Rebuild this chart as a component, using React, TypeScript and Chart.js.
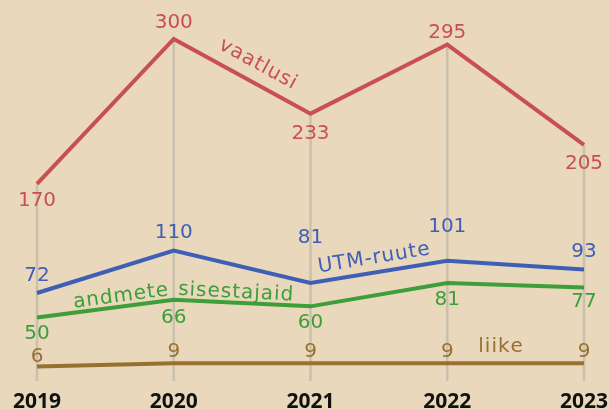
import React, { useEffect, useRef } from "react";
import { Chart, registerables } from "chart.js";
Chart.register(...registerables);

const years = ["2019", "2020", "2021", "2022", "2023"];
const vaatlusi = [170, 300, 233, 295, 205];
const utmRuute = [72, 110, 81, 101, 93];
const sisestajad = [50, 66, 60, 81, 77];
const liike = [6, 9, 9, 9, 9];
const seriesNames = ["vaatlusi", "UTM-ruute", "andmete sisestajaid", "liike"];

const RED = "#c85050";
const BLUE = "#3f5fb6";
const GREEN = "#3d9e3a";
const BROWN = "#98702f";
const BG = "#e9d8bb";
const GRID = "#c9c0ae";
const FONT = '"DejaVu Sans", sans-serif';
const YEAR_FONT = '"Noto Sans", sans-serif';

// vertical offset (px) of each value label from its point
const labelOffsets = [
  [17, -16, 20, -12, 19],
  [-17, -18, -45, -34, -18],
  [16, 18, 16, 17, 14],
  [-10, -11, -11, -11, -11],
];
// series name placement: centre (category index units) and baseline distance above the line
const namePos = [
  { at: 1.55, off: 13 },
  { at: 2.48, off: 9 },
  { at: 1.07, off: 5 },
  { at: 3.39, off: 11 },
];

type P = { x: number; y: number };

function drawTextOnPath(ctx: CanvasRenderingContext2D, pts: P[], text: string, centerX: number, off: number, spacing: number) {
  const cum: number[] = [0];
  for (let i = 1; i < pts.length; i++) {
    cum.push(cum[i - 1] + Math.hypot(pts[i].x - pts[i - 1].x, pts[i].y - pts[i - 1].y));
  }
  let dC = 0;
  for (let i = 1; i < pts.length; i++) {
    if (centerX <= pts[i].x || i === pts.length - 1) {
      const t = (centerX - pts[i - 1].x) / (pts[i].x - pts[i - 1].x);
      dC = cum[i - 1] + t * (cum[i] - cum[i - 1]);
      break;
    }
  }
  const at = (d: number) => {
    let i = 1;
    while (i < pts.length - 1 && d > cum[i]) i++;
    const a = pts[i - 1], b = pts[i];
    const L = cum[i] - cum[i - 1];
    const t = (d - cum[i - 1]) / L;
    return { x: a.x + (b.x - a.x) * t, y: a.y + (b.y - a.y) * t, ang: Math.atan2(b.y - a.y, b.x - a.x) };
  };
  const chars = Array.from(text);
  const widths = chars.map((c) => ctx.measureText(c).width);
  const total = widths.reduce((s, w) => s + w, 0) + spacing * (chars.length - 1);
  let d = dC - total / 2;
  chars.forEach((c, k) => {
    const mid = d + widths[k] / 2;
    const p = at(mid);
    const nx = Math.sin(p.ang), ny = -Math.cos(p.ang);
    ctx.save();
    ctx.translate(p.x + nx * off, p.y + ny * off);
    ctx.rotate(p.ang);
    ctx.textAlign = "center";
    ctx.textBaseline = "alphabetic";
    ctx.fillText(c, 0, 0);
    ctx.restore();
    d += widths[k] + spacing;
  });
}

const decorPlugin = {
  id: "decor",
  beforeDatasetsDraw(chart: any) {
    const ctx = chart.ctx;
    const top = chart.getDatasetMeta(0).data;
    ctx.save();
    ctx.strokeStyle = GRID;
    ctx.lineWidth = 2.5;
    top.forEach((el: any) => {
      ctx.beginPath();
      ctx.moveTo(el.x, el.y);
      ctx.lineTo(el.x, chart.chartArea.bottom);
      ctx.stroke();
    });
    ctx.restore();
  },
  afterDatasetsDraw(chart: any) {
    const ctx = chart.ctx;
    ctx.save();
    chart.data.datasets.forEach((ds: any, di: number) => {
      const meta = chart.getDatasetMeta(di);
      const pts: P[] = meta.data.map((e: any) => ({ x: e.x, y: e.y }));
      ctx.fillStyle = ds.borderColor;
      ctx.font = `20px ${FONT}`;
      ctx.textAlign = "center";
      ctx.textBaseline = "middle";
      pts.forEach((p, i) => {
        ctx.fillText(String(ds.data[i]), p.x, p.y + labelOffsets[di][i]);
      });
      const np = namePos[di];
      const i0 = Math.floor(np.at);
      const f = np.at - i0;
      const cx = pts[i0].x + (pts[Math.min(i0 + 1, pts.length - 1)].x - pts[i0].x) * f;
      ctx.font = `20px ${FONT}`;
      drawTextOnPath(ctx, pts, seriesNames[di], cx, np.off, 1);
    });
    ctx.fillStyle = "#111111";
    ctx.font = `bold 21px ${YEAR_FONT}`;
    ctx.textAlign = "center";
    ctx.textBaseline = "alphabetic";
    const meta0 = chart.getDatasetMeta(0);
    years.forEach((y, i) => {
      ctx.fillText(y, meta0.data[i].x, chart.chartArea.bottom + 27);
    });
    ctx.restore();
  },
};

export default function App() {
  const ref = useRef<HTMLCanvasElement>(null);
  useEffect(() => {
    document.body.style.margin = "0";
    const mk = (label: string, data: number[], color: string) => ({
      label,
      data,
      borderColor: color,
      backgroundColor: color,
      borderWidth: 4,
      pointRadius: 0,
      tension: 0,
      fill: false,
      clip: false as any,
      borderJoinStyle: "miter" as const,
    });
    const chart = new Chart(ref.current!, {
      type: "line",
      data: {
        labels: years,
        datasets: [
          mk(seriesNames[0], vaatlusi, RED),
          mk(seriesNames[1], utmRuute, BLUE),
          mk(seriesNames[2], sisestajad, GREEN),
          mk(seriesNames[3], liike, BROWN),
        ],
      },
      options: {
        animation: false,
        responsive: true,
        maintainAspectRatio: false,
        layout: { padding: { left: 37, right: 25, top: 39, bottom: 28 } },
        plugins: { legend: { display: false }, tooltip: { enabled: false } },
        scales: {
          x: { display: false, offset: false },
          y: { display: false, min: -7, max: 300 },
        },
      },
      plugins: [decorPlugin],
    });
    return () => chart.destroy();
  }, []);
  return (
    <div style={{ position: "fixed", left: 0, top: 0, width: 609, height: 409, background: BG }}>
      <canvas ref={ref} />
    </div>
  );
}
